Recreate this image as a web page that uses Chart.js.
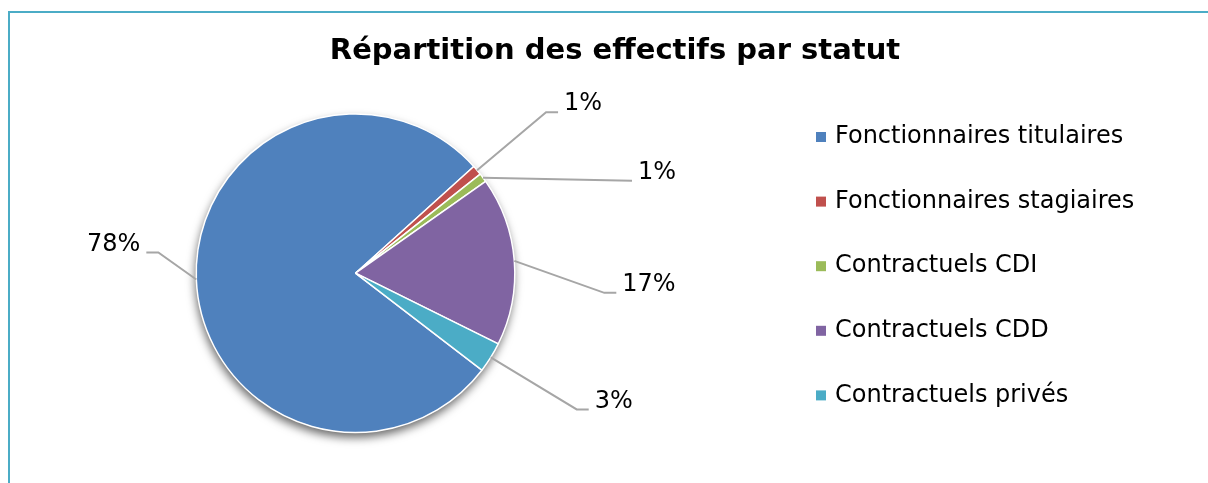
<!DOCTYPE html>
<html>
<head>
<meta charset="utf-8">
<script src="https://cdn.jsdelivr.net/npm/chart.js"></script>
<style>
  html, body { margin: 0; padding: 0; background: #fff; overflow: hidden; }
  #wrap { position: relative; width: 1208px; height: 483px; overflow: hidden; }
  #frame { position: absolute; left: 8px; top: 11px; width: 1400px; height: 700px;
           border-left: 2px solid #4bacc6; border-top: 2px solid #4bacc6; pointer-events: none; }
  canvas { position: absolute; left: 0; top: 0; }
</style>
</head>
<body>
<div id="wrap">
  <canvas id="c" width="1208" height="483"></canvas>
  <div id="frame"></div>
</div>
<script>
// ---- data ----
const titleText = 'Répartition des effectifs par statut';
const categories = ['Fonctionnaires titulaires', 'Fonctionnaires stagiaires', 'Contractuels CDI', 'Contractuels CDD', 'Contractuels privés'];
const shares = [77.9, 1.0, 0.9, 17.1, 3.1];
const colors = ['#4f81bd', '#c0504d', '#9bbb59', '#8064a2', '#4bacc6'];

// ---- style / layout (not data) ----
const FONT = 'DejaVu Sans';
const leaderLayout = [
  { dx: -38, dy: -27, tail: -12 },
  { dx: 69, dy: -58, tail: 12 },
  { dx: 149, dy: 3, tail: 0 },
  { dx: 90, dy: 32, tail: 12 },
  { dx: 86, dy: 52, tail: 12 }
];
const LEGEND_WIDTH = 519;
const LEGEND_INDENT = 127;
const LEGEND_SPACING = 64.6;
const LEGEND_SHIFT = -7;

const shadowPlugin = {
  id: 'pieShadow',
  beforeDatasetsDraw(chart) {
    const arc = chart.getDatasetMeta(0).data[0];
    if (!arc) return;
    const { x, y, outerRadius } = arc.getProps(['x', 'y', 'outerRadius'], true);
    const ctx = chart.ctx;
    ctx.save();
    ctx.shadowColor = 'rgba(0,0,0,0.6)';
    ctx.shadowBlur = 10;
    ctx.shadowOffsetX = -1;
    ctx.shadowOffsetY = 5;
    ctx.fillStyle = '#ffffff';
    ctx.beginPath();
    ctx.arc(x, y, outerRadius, 0, Math.PI * 2);
    ctx.fill();
    ctx.restore();
  }
};

const leaderPlugin = {
  id: 'leaderLabels',
  afterDatasetsDraw(chart) {
    const meta = chart.getDatasetMeta(0);
    const values = chart.data.datasets[0].data;
    const total = values.reduce((a, b) => a + b, 0);
    const ctx = chart.ctx;
    ctx.save();
    meta.data.forEach((arc, i) => {
      const p = arc.getProps(['x', 'y', 'startAngle', 'endAngle', 'outerRadius'], true);
      const mid = (p.startAngle + p.endAngle) / 2;
      const ax = p.x + Math.cos(mid) * p.outerRadius;
      const ay = p.y + Math.sin(mid) * p.outerRadius;
      const L = leaderLayout[i];
      const ex = ax + L.dx, ey = ay + L.dy;
      const tx = ex + L.tail;
      ctx.strokeStyle = '#a6a6a6';
      ctx.lineWidth = 2;
      ctx.beginPath();
      ctx.moveTo(ax, ay);
      ctx.lineTo(ex, ey);
      ctx.lineTo(tx, ey);
      ctx.stroke();
      const right = L.dx >= 0;
      ctx.fillStyle = '#000';
      ctx.font = '24px "' + FONT + '"';
      ctx.textBaseline = 'middle';
      ctx.textAlign = right ? 'left' : 'right';
      const txt = Math.round(values[i] / total * 100) + '%';
      ctx.fillText(txt, tx + (right ? 6 : -6), ey - 8);
    });
    ctx.restore();
  }
};

const sideLegendPlugin = {
  id: 'sideLegend',
  beforeInit(chart) {
    const box = {
      position: 'right',
      weight: 1,
      fullSize: false,
      options: { stackWeight: 1 },
      left: 0, top: 0, right: 0, bottom: 0, width: 0, height: 0,
      isHorizontal() { return false; },
      getPadding() { return { left: 0, right: 0, top: 0, bottom: 0 }; },
      update(maxWidth, maxHeight) {
        this.width = LEGEND_WIDTH;
        this.height = maxHeight;
      },
      draw() {
        const ctx = chart.ctx;
        const labels = chart.data.labels;
        const bg = chart.data.datasets[0].backgroundColor;
        const n = labels.length;
        const firstY = this.top + (this.height - (n - 1) * LEGEND_SPACING) / 2 + LEGEND_SHIFT;
        ctx.save();
        ctx.font = '24px "' + FONT + '"';
        ctx.textBaseline = 'middle';
        ctx.textAlign = 'left';
        labels.forEach((lab, i) => {
          const cy = firstY + i * LEGEND_SPACING;
          const bx = this.left + LEGEND_INDENT;
          ctx.fillStyle = bg[i];
          ctx.fillRect(bx, cy - 5, 10, 10);
          ctx.fillStyle = '#000';
          ctx.fillText(lab, bx + 19, cy);
        });
        ctx.restore();
      }
    };
    Chart.layouts.addBox(chart, box);
  }
};

new Chart(document.getElementById('c'), {
  type: 'pie',
  data: {
    labels: categories,
    datasets: [{
      data: shares,
      backgroundColor: colors,
      borderColor: '#ffffff',
      borderWidth: 1.5
    }]
  },
  options: {
    responsive: false,
    animation: false,
    rotation: 127.5,
    layout: { padding: { left: 22, right: 0, top: 0, bottom: 49.75 } },
    plugins: {
      legend: { display: false },
      tooltip: { enabled: false },
      title: {
        display: true,
        text: titleText,
        color: '#000',
        font: { family: FONT, size: 29, weight: 'bold', lineHeight: 1.2 },
        padding: { top: 33.6, bottom: 44.75 }
      }
    }
  },
  plugins: [shadowPlugin, leaderPlugin, sideLegendPlugin]
});
</script>
</body>
</html>
